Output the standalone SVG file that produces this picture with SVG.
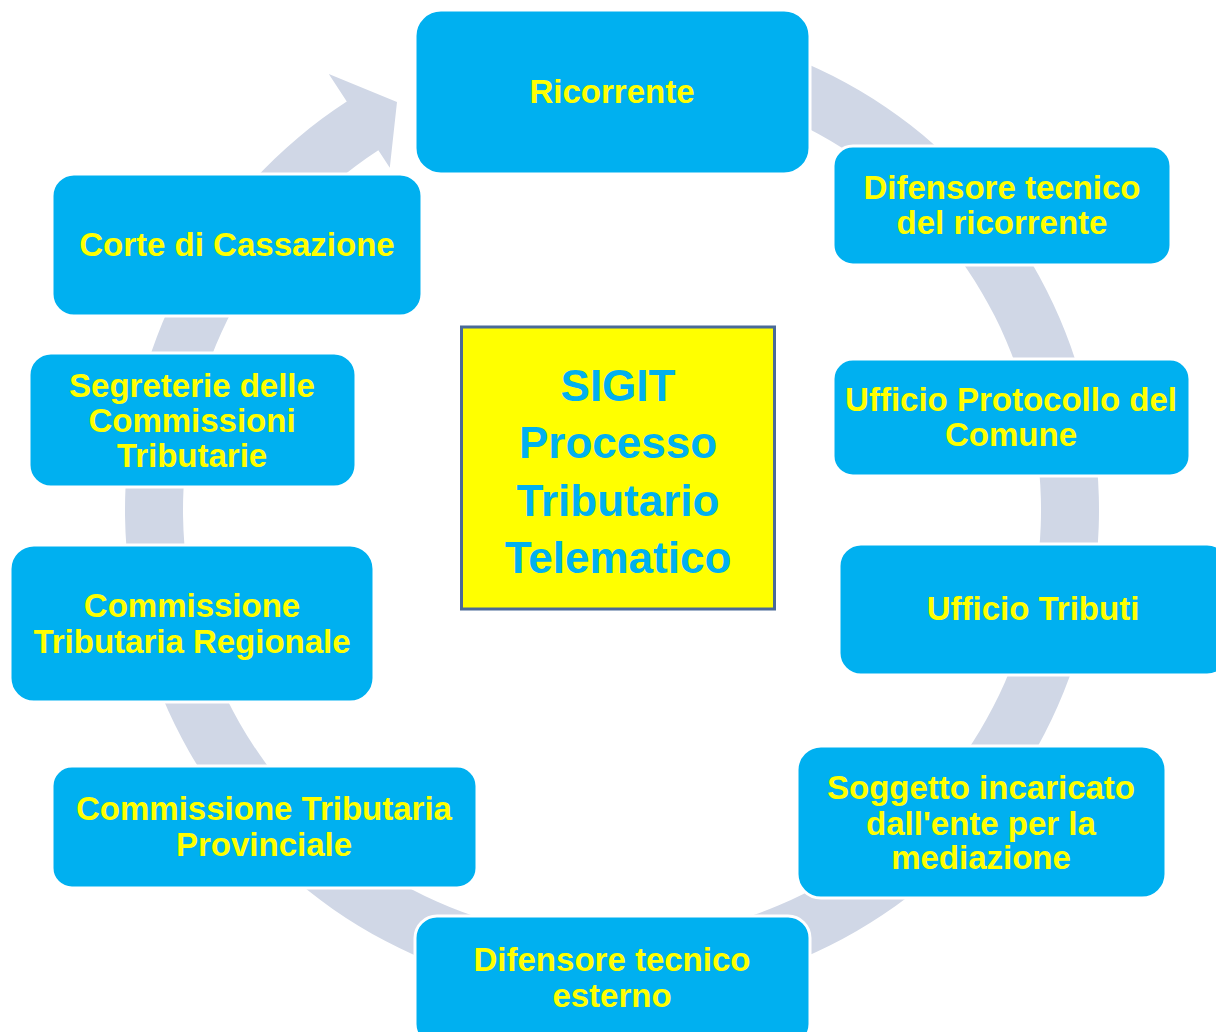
<svg xmlns="http://www.w3.org/2000/svg" width="1216" height="1032" viewBox="0 0 1216 1032">
<style>
.box{fill:#00B0F0;stroke:#FFFFFF;stroke-width:3}
.t{font-family:"Liberation Sans",Arial,sans-serif;font-weight:bold;font-size:33px;fill:#FFFF00;text-anchor:middle}
.c{font-family:"Liberation Sans",Arial,sans-serif;font-weight:bold;font-size:44px;fill:#00B0F0;text-anchor:middle}
</style>
<rect width="1216" height="1032" fill="#FFFFFF"/>
<g id="connectors">
<path d="M445.44,52.37 A487,487 0 1 1 346.76,101.57 L328.79,73.89 L397,102 L389.79,167.82 L378.35,150.21 A429,429 0 1 0 465.27,106.87 Z" fill="#D0D7E6"/>
</g>
<g id="center">
<rect x="461.5" y="327" width="313" height="282" fill="#FFFF00" stroke="#4A6A98" stroke-width="3"/>
<text class="c" x="618" y="401">SIGIT</text>
<text class="c" x="618" y="458">Processo</text>
<text class="c" x="618" y="516">Tributario</text>
<text class="c" x="618" y="573">Telematico</text>
</g>
<g id="ricorrente">
<rect class="box" x="415" y="10" width="395" height="164" rx="26"/>
<text class="t" x="612" y="103">Ricorrente</text>
</g>
<g id="difensore-ricorrente">
<rect class="box" x="833" y="146" width="338" height="119" rx="20"/>
<text class="t" x="1002" y="199">Difensore tecnico</text>
<text class="t" x="1002" y="234">del ricorrente</text>
</g>
<g id="ufficio-protocollo">
<rect class="box" x="833" y="359" width="357" height="117" rx="20"/>
<text class="t" x="1011" y="411">Ufficio Protocollo del</text>
<text class="t" x="1011" y="446">Comune</text>
</g>
<g id="ufficio-tributi">
<rect class="box" x="839" y="544" width="390" height="131" rx="22"/>
<text class="t" x="1033" y="620">Ufficio Tributi</text>
</g>
<g id="soggetto-mediazione">
<rect class="box" x="797" y="746" width="369" height="152" rx="24"/>
<text class="t" x="981" y="799">Soggetto incaricato</text>
<text class="t" x="981" y="835">dall'ente per la</text>
<text class="t" x="981" y="869">mediazione</text>
</g>
<g id="difensore-esterno">
<rect class="box" x="415" y="916" width="395" height="130" rx="22"/>
<text class="t" x="612" y="971">Difensore tecnico</text>
<text class="t" x="612" y="1007">esterno</text>
</g>
<g id="ctp">
<rect class="box" x="52" y="766" width="425" height="122" rx="20"/>
<text class="t" x="264" y="820">Commissione Tributaria</text>
<text class="t" x="264" y="856">Provinciale</text>
</g>
<g id="ctr">
<rect class="box" x="10" y="545" width="364" height="157" rx="24"/>
<text class="t" x="192" y="617">Commissione</text>
<text class="t" x="192" y="653">Tributaria Regionale</text>
</g>
<g id="segreterie">
<rect class="box" x="29" y="353" width="327" height="134" rx="22"/>
<text class="t" x="192" y="397">Segreterie delle</text>
<text class="t" x="192" y="432">Commissioni</text>
<text class="t" x="192" y="467">Tributarie</text>
</g>
<g id="cassazione">
<rect class="box" x="52" y="174" width="370" height="142" rx="22"/>
<text class="t" x="237" y="256">Corte di Cassazione</text>
</g>
</svg>
